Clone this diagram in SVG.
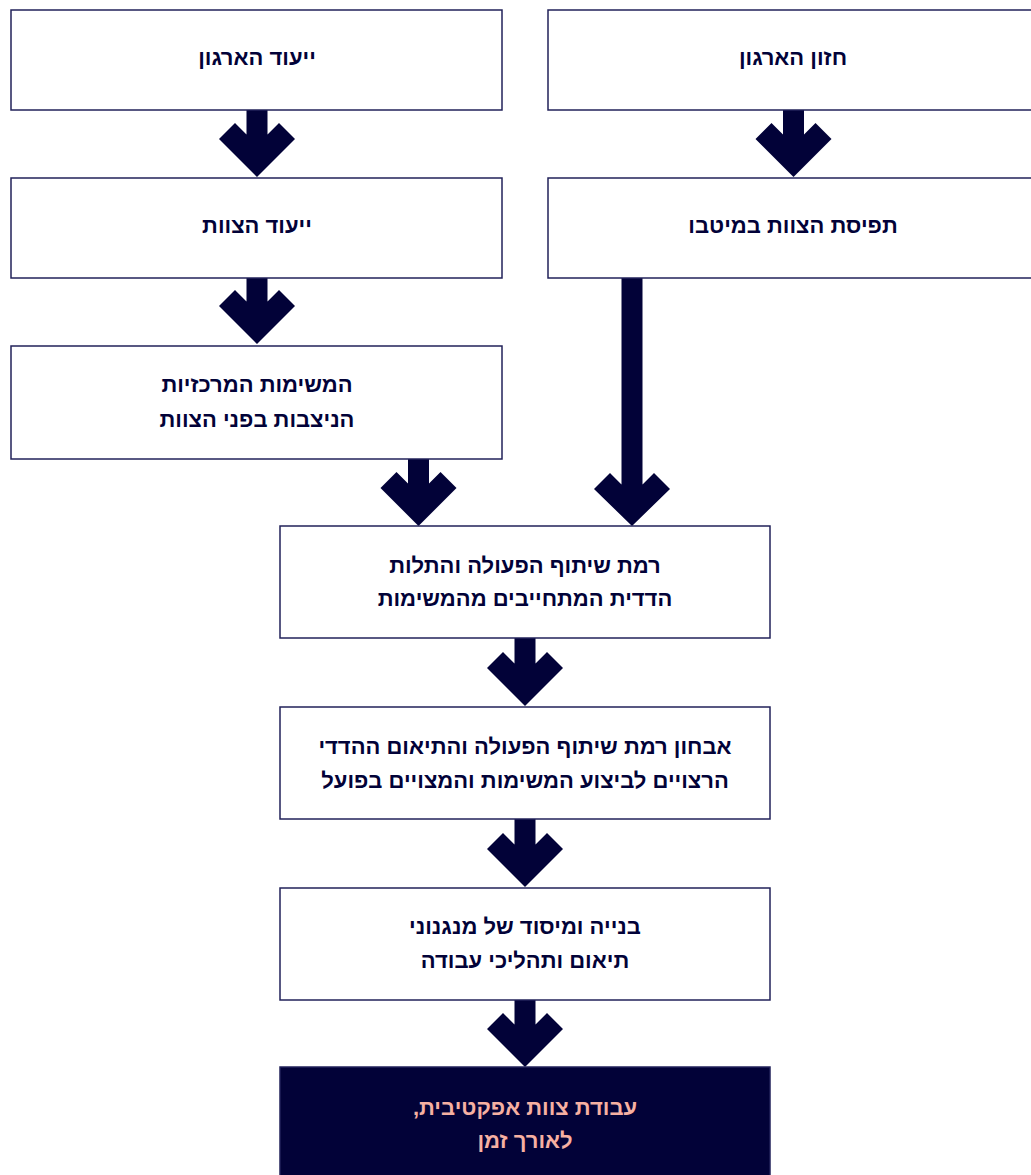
<svg xmlns="http://www.w3.org/2000/svg" width="1031" height="1175" viewBox="0 0 1031 1175">
<style>
.box{fill:#ffffff;stroke:#22225a;stroke-width:1.5}
.dark{fill:#020238;stroke:#22225a;stroke-width:1.5}
.t{font-family:"Liberation Sans","DejaVu Sans",sans-serif;font-weight:bold;font-size:22px;fill:#020238;text-anchor:middle;direction:rtl}
.tp{font-family:"Liberation Sans","DejaVu Sans",sans-serif;font-weight:bold;font-size:22px;fill:#f6b0a2;text-anchor:middle;direction:rtl}
.arr{fill:#020238}
</style>
<rect width="1031" height="1175" fill="#ffffff"/>
<g id="connectors">
<path class="arr" d="M246.5,110 H267.5 V134.5 L279,123 L295,139 L257,177 L219,139 L235,123 L246.5,134.5 Z"/>
<path class="arr" d="M783,110 H804 V134.5 L815.5,123 L831.5,139 L793.5,177 L755.5,139 L771.5,123 L783,134.5 Z"/>
<path class="arr" d="M246.5,278 H267.5 V301.5 L279,290 L295,306 L257,344 L219,306 L235,290 L246.5,301.5 Z"/>
<path class="arr" d="M408,459 H429 V483.5 L440.5,472 L456.5,488 L418.5,526 L380.5,488 L396.5,472 L408,483.5 Z"/>
<path class="arr" d="M621.5,278 H642.5 V484.5 L654,473 L670,489 L632,526 L594,489 L610,473 L621.5,484.5 Z"/>
<path class="arr" d="M514.5,638 H535.5 V663.5 L547,652 L563,668 L525,706 L487,668 L503,652 L514.5,663.5 Z"/>
<path class="arr" d="M514.5,819 H535.5 V844.5 L547,833 L563,849 L525,887 L487,849 L503,833 L514.5,844.5 Z"/>
<path class="arr" d="M514.5,1000 H535.5 V1024.5 L547,1013 L563,1029 L525,1067 L487,1029 L503,1013 L514.5,1024.5 Z"/>
</g>
<g id="n1"><rect class="box" x="11" y="10" width="491" height="100"/><text class="t" x="257" y="65">ייעוד הארגון</text></g>
<g id="n2"><rect class="box" x="548" y="10" width="500" height="100"/><text class="t" x="793" y="65">חזון הארגון</text></g>
<g id="n3"><rect class="box" x="11" y="178" width="491" height="100"/><text class="t" x="257" y="233">ייעוד הצוות</text></g>
<g id="n4"><rect class="box" x="548" y="178" width="500" height="100"/><text class="t" x="793" y="233">תפיסת הצוות במיטבו</text></g>
<g id="n5"><rect class="box" x="11" y="346" width="491" height="113"/><text class="t" x="257" y="392">המשימות המרכזיות</text><text class="t" x="257" y="427">הניצבות בפני הצוות</text></g>
<g id="n6"><rect class="box" x="280" y="526" width="490" height="112"/><text class="t" x="525" y="573">רמת שיתוף הפעולה והתלות</text><text class="t" x="525" y="606">הדדית המתחייבים מהמשימות</text></g>
<g id="n7"><rect class="box" x="280" y="707" width="490" height="112"/><text class="t" x="525" y="754">אבחון רמת שיתוף הפעולה והתיאום ההדדי</text><text class="t" x="525" y="788">הרצויים לביצוע המשימות והמצויים בפועל</text></g>
<g id="n8"><rect class="box" x="280" y="888" width="490" height="112"/><text class="t" x="525" y="934">בנייה ומיסוד של מנגנוני</text><text class="t" x="525" y="968">תיאום ותהליכי עבודה</text></g>
<g id="n9"><rect class="dark" x="280" y="1067" width="490" height="120"/><text class="tp" x="525" y="1115">עבודת צוות אפקטיבית,</text><text class="tp" x="525" y="1148">לאורך זמן</text></g>
</svg>
